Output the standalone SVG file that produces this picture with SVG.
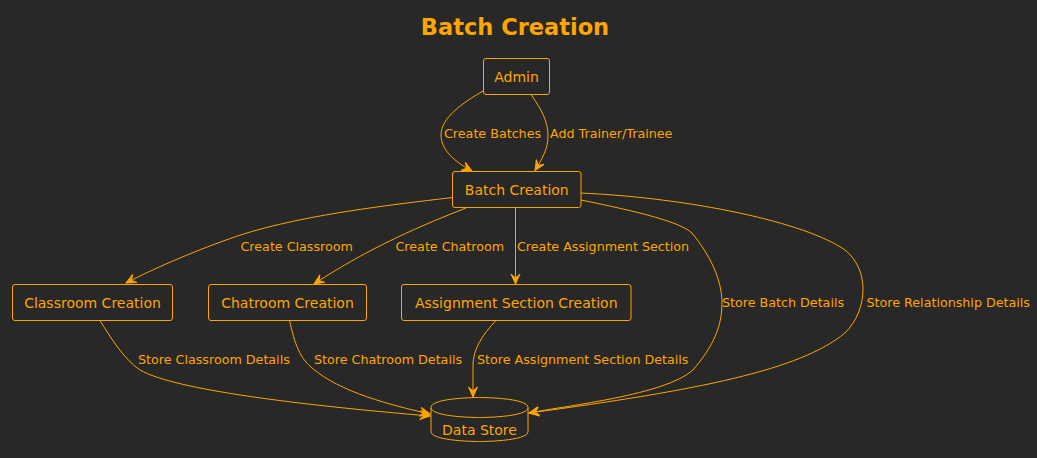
<svg xmlns="http://www.w3.org/2000/svg" width="1037" height="458" viewBox="0 0 1037 458">
<style>
.bg{fill:#282828}
.node{fill:#282828;stroke:#FFA500;stroke-width:1}
.nt{font-family:"DejaVu Sans",sans-serif;font-size:14px;fill:#FFA500;text-anchor:middle}
.el{font-family:"DejaVu Sans",sans-serif;font-size:12.7px;fill:#FFA500}
.e{fill:none;stroke:#FFA500;stroke-width:1}
.title{font-family:"DejaVu Sans",sans-serif;font-size:22.5px;font-weight:bold;fill:#FFA500;text-anchor:middle}
</style>
<defs>
<marker id="ah" markerUnits="userSpaceOnUse" markerWidth="14" markerHeight="12" viewBox="-11 -6 12 12" refX="0" refY="0" orient="auto">
<path d="M0,0 L-10,-4.5 L-6,0 L-10,4.5 Z" fill="#FFA500" stroke="#FFA500" stroke-width="1"/>
</marker>
</defs>
<rect class="bg" x="0" y="0" width="1037" height="458"/>
<text class="title" x="515" y="35">Batch Creation</text>
<g id="connectors">
<path class="e" marker-end="url(#ah)" d="M484,90.5 C462,103 441,118 441,135 C441,150 455,162 472,171"/>
<path class="e" marker-end="url(#ah)" d="M531,94.5 C542,110 548,122 548,136 C548,149 542,159 535,170.5"/>
<path class="e" marker-end="url(#ah)" d="M452.5,197.5 C390,205 290,216 226,240 C190,253 155,268 126,283"/>
<path class="e" marker-end="url(#ah)" d="M466,208 C425,224 370,247 314,284"/>
<path class="e" marker-end="url(#ah)" d="M515.5,207.5 L515.5,284"/>
<path class="e" marker-end="url(#ah)" d="M581,200 C640,212 680,222 692,233 C710,255 722,280 722,303 C722,330 710,350 693,370 C665,395 570,405 529,413"/>
<path class="e" marker-end="url(#ah)" d="M581,193 C690,198 805,222 845,250 C870,270 868,310 845,333 C800,370 700,390 529,413"/>
<path class="e" marker-end="url(#ah)" d="M100,320.5 C112,340 125,360 140,370 C175,390 300,405 430,416"/>
<path class="e" marker-end="url(#ah)" d="M289.5,320.5 C295,345 300,358 312,368 C340,392 390,405 430,414"/>
<path class="e" marker-end="url(#ah)" d="M496,320.5 C482,335 473,350 473,365 L473,397"/>
<text class="el" x="444" y="137.5">Create Batches</text>
<text class="el" x="550" y="137.5">Add Trainer/Trainee</text>
<text class="el" x="240.5" y="251">Create Classroom</text>
<text class="el" x="395.5" y="251">Create Chatroom</text>
<text class="el" x="517" y="251">Create Assignment Section</text>
<text class="el" x="722" y="306.5">Store Batch Details</text>
<text class="el" x="866.5" y="306.5">Store Relationship Details</text>
<text class="el" x="138" y="363.5">Store Classroom Details</text>
<text class="el" x="314" y="363.5">Store Chatroom Details</text>
<text class="el" x="477" y="363.5">Store Assignment Section Details</text>
</g>
<g id="admin">
<rect class="node" x="483.5" y="58.5" width="66" height="36" rx="2.5"/>
<text class="nt" x="516.5" y="82">Admin</text>
</g>
<g id="batch-creation">
<rect class="node" x="452.5" y="171.5" width="128.5" height="36" rx="2.5"/>
<text class="nt" x="516.75" y="195">Batch Creation</text>
</g>
<g id="classroom-creation">
<rect class="node" x="12.5" y="284.5" width="160" height="36" rx="2.5"/>
<text class="nt" x="92.5" y="308">Classroom Creation</text>
</g>
<g id="chatroom-creation">
<rect class="node" x="208.5" y="284.5" width="158" height="36" rx="2.5"/>
<text class="nt" x="287.5" y="308">Chatroom Creation</text>
</g>
<g id="assignment-section-creation">
<rect class="node" x="401.5" y="284.5" width="229.5" height="36" rx="2.5"/>
<text class="nt" x="516.25" y="308">Assignment Section Creation</text>
</g>
<g id="data-store">
<path class="node" d="M431,407.5 C431,397.5 479.5,397.5 479.5,397.5 C479.5,397.5 528,397.5 528,407.5 L528,431.5 C528,441.5 479.5,441.5 479.5,441.5 C479.5,441.5 431,441.5 431,431.5 L431,407.5 Z"/>
<path class="node" fill="none" d="M431,407.5 C431,417.5 479.5,417.5 479.5,417.5 C479.5,417.5 528,417.5 528,407.5"/>
<text class="nt" x="479.5" y="435">Data Store</text>
</g>
</svg>
